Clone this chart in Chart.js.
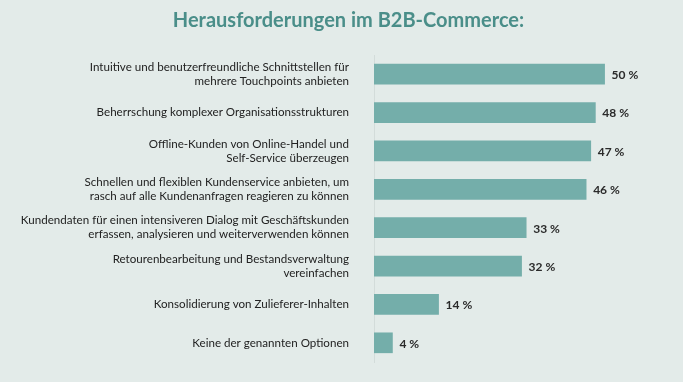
<!DOCTYPE html>
<html>
<head>
<meta charset="utf-8">
<script src="https://cdn.jsdelivr.net/npm/chart.js@4"></script>
<style>
  html, body { margin: 0; padding: 0; background: #e3ebe9; }
  #wrap { width: 683px; height: 382px; position: relative; }
</style>
</head>
<body>
<div id="wrap"><canvas id="c" width="683" height="382"></canvas></div>
<script>
const titleText = 'Herausforderungen im B2B-Commerce:';
const categories = [
  ['Intuitive und benutzerfreundliche Schnittstellen für', 'mehrere Touchpoints anbieten'],
  'Beherrschung komplexer Organisationsstrukturen',
  ['Offline-Kunden von Online-Handel und', 'Self-Service überzeugen'],
  ['Schnellen und flexiblen Kundenservice anbieten, um', 'rasch auf alle Kundenanfragen reagieren zu können'],
  ['Kundendaten für einen intensiveren Dialog mit Geschäftskunden', 'erfassen, analysieren und weiterverwenden können'],
  ['Retourenbearbeitung und Bestandsverwaltung', 'vereinfachen'],
  'Konsolidierung von Zulieferer-Inhalten',
  'Keine der genannten Optionen'
];
const values = [50, 48, 47, 46, 33, 32, 14, 4];
const valueLabels = ['50 %', '48 %', '47 %', '46 %', '33 %', '32 %', '14 %', '4 %'];

const valuePlugin = {
  id: 'valueLabels',
  afterDatasetsDraw(chart) {
    const ctx = chart.ctx;
    const meta = chart.getDatasetMeta(0);
    ctx.save();
    ctx.font = 'bold 12px Lato';
    ctx.fillStyle = '#2a2a2a';
    ctx.textAlign = 'left';
    ctx.textBaseline = 'middle';
    meta.data.forEach((bar, i) => {
      ctx.fillText(valueLabels[i], bar.x + 7, bar.y + 1);
    });
    ctx.restore();
  }
};

new Chart(document.getElementById('c'), {
  type: 'bar',
  data: {
    labels: categories,
    datasets: [{
      data: values,
      backgroundColor: '#74aeaa',
      borderWidth: 0,
      barThickness: 20
    }]
  },
  options: {
    indexAxis: 'y',
    responsive: false,
    animation: false,
    layout: { padding: { left: 14, right: 0, top: 0, bottom: 20 } },
    plugins: {
      legend: { display: false },
      tooltip: { enabled: false },
      title: {
        display: true,
        text: titleText,
        color: '#4a8e89',
        font: { family: 'Lato', size: 20, weight: 'bold' },
        padding: { top: 9, bottom: 22 }
      }
    },
    scales: {
      x: {
        display: false,
        min: 0,
        max: 67
      },
      y: {
        afterFit(scale) {
          scale.width = 360;
          scale.paddingTop = 0;
          scale.paddingBottom = 0;
        },
        grid: { display: false, drawTicks: false },
        border: { display: true, color: '#d3dcda', width: 1 },
        ticks: {
          padding: 25,
          color: '#222222',
          font: { family: 'Lato', size: 11.6, lineHeight: 1.2 }
        }
      }
    }
  },
  plugins: [valuePlugin]
});
</script>
</body>
</html>
